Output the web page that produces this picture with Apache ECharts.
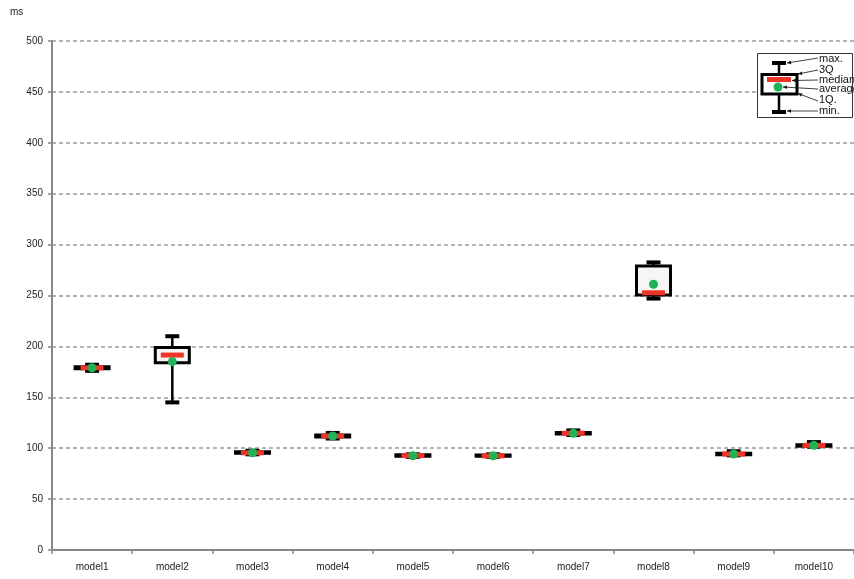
<!DOCTYPE html>
<html>
<head>
<meta charset="utf-8">
<script src="https://cdn.jsdelivr.net/npm/echarts@6/dist/echarts.min.js"></script>
<style>html,body{margin:0;padding:0;background:#fff}#c{width:854px;height:579px}</style>
</head>
<body>
<div id="c"></div>
<script>
const categories = ['model1','model2','model3','model4','model5','model6','model7','model8','model9','model10'];
const minVals    = [176,   145,   94,   109.5, 91.5, 91.5, 113,   247,   93,   101.5];
const q1Vals     = [178,   184,   95,   111,   92,   92,   114,   250.5, 93.5, 102];
const medianVals = [179,   191.5, 95.5, 112,   92.7, 92.5, 114.7, 252.7, 94.3, 102.8];
const q3Vals     = [180,   199,   96.5, 113,   93.5, 93.3, 115.5, 279,   95,   103.5];
const maxVals    = [182,   210,   97.5, 115,   94,   94,   117.5, 282.5, 97,   106];
const meanVals   = [179,   185,   95.5, 112,   92.6, 92.6, 114.6, 261,   94.3, 102.8];
const yTicks = {min: 0, max: 500, interval: 50};

const data = categories.map((c, i) => [i, minVals[i], q1Vals[i], medianVals[i], q3Vals[i], maxVals[i], meanVals[i]]);

const RED = '#ee3327', GREEN = '#1fb256';

function renderItem(params, api) {
  const i = api.value(0);
  const x = api.coord([i, 0])[0];
  const yMin = api.coord([i, api.value(1)])[1];
  const yQ1 = api.coord([i, api.value(2)])[1];
  const yMed = api.coord([i, api.value(3)])[1];
  const yQ3 = api.coord([i, api.value(4)])[1];
  const yMax = api.coord([i, api.value(5)])[1];
  const yMean = api.coord([i, api.value(6)])[1];
  const bw = 34, cw = 14, mw = 23;
  return {
    type: 'group',
    children: [
      {type: 'line', shape: {x1: x, y1: yQ3, x2: x, y2: yMax}, style: {stroke: '#000', lineWidth: 2.5}},
      {type: 'line', shape: {x1: x, y1: yQ1, x2: x, y2: yMin}, style: {stroke: '#000', lineWidth: 2.5}},
      {type: 'line', shape: {x1: x - cw/2, y1: yMax, x2: x + cw/2, y2: yMax}, style: {stroke: '#000', lineWidth: 4}},
      {type: 'line', shape: {x1: x - cw/2, y1: yMin, x2: x + cw/2, y2: yMin}, style: {stroke: '#000', lineWidth: 4}},
      {type: 'rect', shape: {x: x - bw/2, y: yQ3, width: bw, height: Math.max(yQ1 - yQ3, 0.5)}, style: {fill: '#f6f6f6', stroke: '#000', lineWidth: 3}},
      {type: 'rect', shape: {x: x - mw/2, y: yMed - 2.5, width: mw, height: 5}, style: {fill: RED}},
      {type: 'circle', shape: {cx: x, cy: yMean, r: 4.5}, style: {fill: GREEN}}
    ]
  };
}

// legend illustration
const legendGraphics = [];
legendGraphics.push({type: 'rect', shape: {x: 757.5, y: 53.5, width: 95, height: 64}, style: {fill: '#fff', stroke: '#333', lineWidth: 1}, z: 100});
const lx = 779;
legendGraphics.push({type: 'line', shape: {x1: lx, y1: 63, x2: lx, y2: 74}, style: {stroke: '#000', lineWidth: 2.5}, z: 101});
legendGraphics.push({type: 'line', shape: {x1: lx, y1: 94, x2: lx, y2: 112}, style: {stroke: '#000', lineWidth: 2.5}, z: 101});
legendGraphics.push({type: 'line', shape: {x1: lx - 7, y1: 63, x2: lx + 7, y2: 63}, style: {stroke: '#000', lineWidth: 4}, z: 101});
legendGraphics.push({type: 'line', shape: {x1: lx - 7, y1: 112, x2: lx + 7, y2: 112}, style: {stroke: '#000', lineWidth: 4}, z: 101});
legendGraphics.push({type: 'rect', shape: {x: 762, y: 74.5, width: 35, height: 19.5}, style: {fill: '#fff', stroke: '#000', lineWidth: 3}, z: 101});
legendGraphics.push({type: 'rect', shape: {x: 767, y: 77, width: 24, height: 5}, style: {fill: RED}, z: 102});
legendGraphics.push({type: 'circle', shape: {cx: 778, cy: 87, r: 4.5}, style: {fill: GREEN}, z: 103});
const legendLabels = [
  {t: 'max.', ty: 59, from: [818, 58], to: [787, 63]},
  {t: '3Q', ty: 70, from: [818, 70], to: [798, 74]},
  {t: 'median', ty: 79.5, from: [818, 80], to: [792, 80.5]},
  {t: 'average', ty: 88.5, from: [818, 89], to: [783, 87]},
  {t: '1Q.', ty: 99.5, from: [818, 101], to: [798, 93.5]},
  {t: 'min.', ty: 110.5, from: [818, 111], to: [787, 111]}
];
legendLabels.forEach(l => {
  legendGraphics.push({type: 'text', style: {text: l.t, x: 819, y: l.ty, fill: '#111', font: '11px "Liberation Sans", Arial, sans-serif', verticalAlign: 'middle', textAlign: 'left'}, z: 104});
  legendGraphics.push({type: 'line', shape: {x1: l.from[0], y1: l.from[1], x2: l.to[0], y2: l.to[1]}, style: {stroke: '#111', lineWidth: 0.8}, z: 104});
  const dx = l.from[0] - l.to[0], dy = l.from[1] - l.to[1];
  const len = Math.sqrt(dx*dx + dy*dy), ux = dx/len, uy = dy/len;
  const h = 4, w = 1.8;
  legendGraphics.push({type: 'polygon', shape: {points: [
    [l.to[0], l.to[1]],
    [l.to[0] + ux*h - uy*w, l.to[1] + uy*h + ux*w],
    [l.to[0] + ux*h + uy*w, l.to[1] + uy*h - ux*w]
  ]}, style: {fill: '#111'}, z: 104});
});
legendGraphics.push({type: 'text', style: {text: 'ms', x: 10, y: 12, fill: '#222', font: '10px "Liberation Sans", Arial, sans-serif', verticalAlign: 'middle'}, z: 100});

const chart = echarts.init(document.getElementById('c'), null, {renderer: 'canvas'});
chart.setOption({
  animation: false,
  backgroundColor: '#fff',
  grid: {left: 52, right: 0, top: 41, bottom: 29, containLabel: false},
  xAxis: {
    type: 'category', data: categories, boundaryGap: true,
    axisLine: {lineStyle: {color: '#888', width: 2}},
    axisTick: {show: true, length: 4, lineStyle: {color: '#888', width: 1.5}},
    axisLabel: {color: '#222', fontSize: 10, fontFamily: 'Liberation Sans, Arial, sans-serif', margin: 12, interval: 0},
    splitLine: {show: false}
  },
  yAxis: {
    type: 'value', min: yTicks.min, max: yTicks.max, interval: yTicks.interval,
    axisLine: {show: true, lineStyle: {color: '#888', width: 2}},
    axisTick: {show: true, length: 4, lineStyle: {color: '#888', width: 1.5}},
    axisLabel: {color: '#222', fontSize: 10, fontFamily: 'Liberation Sans, Arial, sans-serif', margin: 9},
    splitLine: {show: true, lineStyle: {color: '#999', width: 1.5, type: [4, 3]}}
  },
  series: [{
    type: 'custom',
    renderItem: renderItem,
    data: data,
    encode: {x: 0, y: [1, 5]},
    clip: false,
    z: 10
  }],
  graphic: legendGraphics
});
</script>
</body>
</html>
